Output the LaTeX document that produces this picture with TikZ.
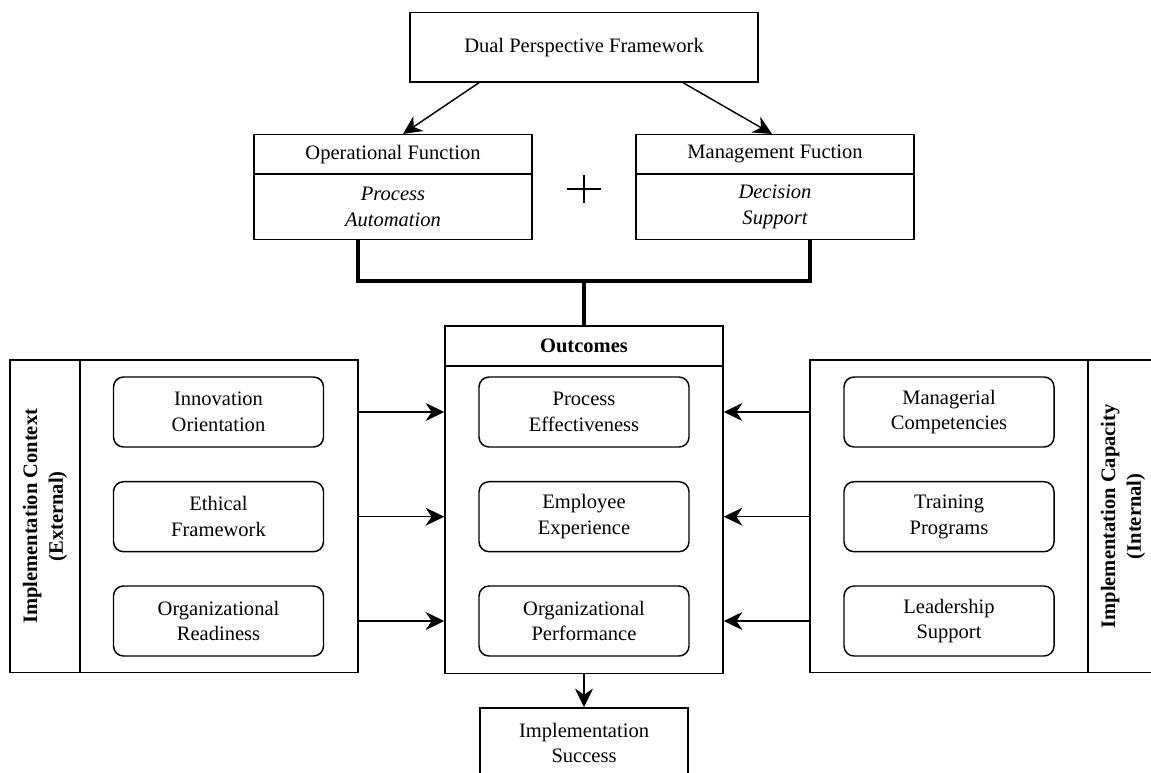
\documentclass[tikz,border=0pt]{standalone}
\usepackage{fontspec}
\setmainfont{Liberation Serif}
\usetikzlibrary{arrows.meta}
\begin{document}
\begin{tikzpicture}[x=0.75pt,y=-0.75pt,
  every node/.style={font=\fontsize{15.4}{19.3}\selectfont, inner sep=0pt, align=center},
  ital/.style={font=\fontsize{15.4}{19.3}\selectfont\itshape},
  bold/.style={font=\fontsize{15.4}{19.3}\selectfont\bfseries},
  box/.style={draw, line width=1.1pt, rectangle},
  rbox/.style={draw, line width=1.1pt, rounded corners=7.5pt, minimum width=157.5pt, minimum height=52.5pt},
  arr/.style={line width=1.1pt, -{Stealth[length=14pt,width=13.5pt,inset=4.5pt]}},
  heavy/.style={line width=2.4pt},
]
\clip (0,0) rectangle (1151,773);
\fill[white] (0,0) rectangle (1151,773);

% top
\node[box, minimum width=261pt, minimum height=52pt] (top) at (584,47.3) {Dual Perspective Framework};

% operational
\node[box, minimum width=208.5pt, minimum height=29.5pt] (opH) at (393,154.35) {Operational Function};
\node[box, ital, minimum width=208.5pt, minimum height=48.5pt, anchor=north] (opB) at (393,174) {Process\\Automation};

% management
\node[box, minimum width=208.5pt, minimum height=29.5pt] (mgH) at (775,154.35) {Management Fuction};
\node[box, ital, minimum width=208.5pt, minimum height=48.5pt, anchor=north] (mgB) at (775,174) {Decision\\Support};

\draw[arr] ([xshift=-78.75pt]top.south) -- ([xshift=7.5pt]opH.north);
\draw[arr] ([xshift=74.25pt]top.south) -- ([xshift=-2.25pt]mgH.north);

% plus
\draw[line width=1pt] (567,189) -- (601,189);
\draw[line width=1pt] (584,175) -- (584,203);

% outcomes
\node[box, bold, minimum width=208.5pt, minimum height=29.8pt] (outH) at (584,345.85) {Outcomes};
\node[box, minimum width=208.5pt, minimum height=230.25pt, anchor=north] (outB) at (584,365.7) {};
\node[rbox] (pe) at (584,412) {Process\\Effectiveness};
\node[rbox] (ee) at (584,516.7) {Employee\\Experience};
\node[rbox] (opf) at (584,621) {Organizational\\Performance};

% thick connector
\coordinate (jn) at (584,281);
\draw[heavy] ([xshift=-26.25pt]opB.south) |- (jn) -| ([xshift=26.25pt]mgB.south);
\draw[heavy] (jn) -- (outH.north);

% left panel
\node[box, bold, rotate=90, minimum width=234.5pt, minimum height=52.5pt] (lT) at (45,516.35) {Implementation Context\\(External)};
\node[box, minimum width=208.5pt, minimum height=234.5pt] (lB) at (219,516.35) {};
\node[rbox] (io) at (218.5,412) {Innovation\\Orientation};
\node[rbox] (ef) at (218.5,516.7) {Ethical\\Framework};
\node[rbox] (orr) at (218.5,621) {Organizational\\Readiness};

% right panel
\node[box, bold, rotate=90, minimum width=234.5pt, minimum height=52.5pt] (rT) at (1123,516.35) {Implementation Capacity\\(Internal)};
\node[box, minimum width=208.5pt, minimum height=234.5pt] (rB) at (949,516.35) {};
\node[rbox] (mc) at (949,412) {Managerial\\Competencies};
\node[rbox] (tp) at (949,516.7) {Training\\Programs};
\node[rbox] (ls) at (949,621) {Leadership\\Support};

% side arrows
\draw[arr] (lB.east |- io) -- (outB.west |- io);
\draw[arr] (lB.east |- ef) -- (outB.west |- ef);
\draw[arr] (lB.east |- orr) -- (outB.west |- orr);
\draw[arr] (rB.west |- mc) -- (outB.east |- mc);
\draw[arr] (rB.west |- tp) -- (outB.east |- tp);
\draw[arr] (rB.west |- ls) -- (outB.east |- ls);

% success
\node[box, minimum width=156pt, minimum height=52.5pt] (succ) at (584,743) {Implementation\\Success};
\draw[arr] (outB.south) -- (succ.north);
\end{tikzpicture}
\end{document}
